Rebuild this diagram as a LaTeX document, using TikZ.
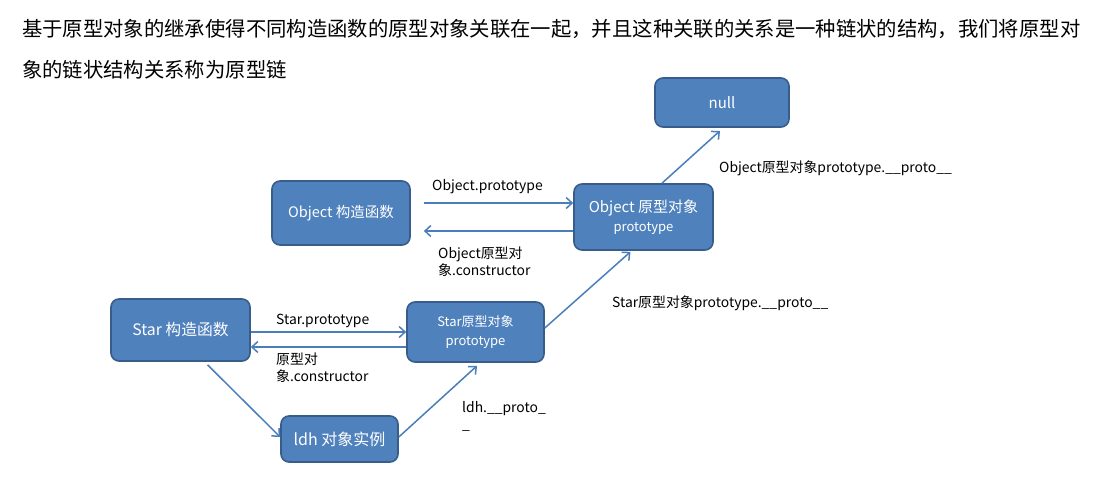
\documentclass[tikz,border=0pt]{standalone}
\usepackage{fontspec}
\setmainfont{Noto Sans CJK SC}
\usetikzlibrary{arrows.meta,calc}
\definecolor{boxfill}{HTML}{4F81BD}
\definecolor{boxline}{HTML}{385D8A}
\definecolor{arrcol}{HTML}{4A7EBB}
\tikzset{
  box/.style={draw=boxline, line width=1.6pt, fill=boxfill, rounded corners=8pt,
    text=white, align=center, inner sep=0pt},
  arr/.style={draw=arrcol, line width=1.5pt, -{Straight Barb[length=6pt,width=11pt,line width=1.5pt]}},
  lbl/.style={anchor=west, inner sep=0pt, font=\fontsize{13.9}{17}\selectfont, align=left, text=black},
}
\begin{document}
\begin{tikzpicture}[x=1pt,y=-1pt]
\useasboundingbox[fill=white] (0,0) rectangle (1096,495);
% title
\node[anchor=west, inner sep=0pt, font=\fontsize{20.35}{24}\selectfont] (t1) at (22,29) {基于原型对象的继承使得不同构造函数的原型对象关联在一起，并且这种关联的关系是一种链状的结构，我们将原型对};
\node[anchor=west, inner sep=0pt, font=\fontsize{20.35}{24}\selectfont] (t2) at (22,70) {象的链状结构关系称为原型链};
% boxes
\node[box, minimum width=134pt, minimum height=49pt, font=\fontsize{15}{18}\selectfont] (nul) at (722,102.5) {null};
\node[box, minimum width=138pt, minimum height=64pt, font=\fontsize{14.5}{17}\selectfont] (oc) at (341,213) {Object 构造函数};
\node[box, minimum width=139pt, minimum height=66pt, font=\fontsize{13}{19}\selectfont] (op) at (643.5,217) {{\fontsize{15}{18}\selectfont Object 原型对象}\\prototype};
\node[box, minimum width=139pt, minimum height=62pt, font=\fontsize{15.8}{19}\selectfont] (sc) at (180.5,330) {Star 构造函数};
\node[box, minimum width=137pt, minimum height=60pt, font=\fontsize{13}{19}\selectfont] (sp) at (475.5,332) {Star原型对象\\prototype};
\node[box, minimum width=117pt, minimum height=46pt, font=\fontsize{16}{19}\selectfont] (ldh) at (339.5,439) {ldh 对象实例};
% arrows
\draw[arr] ($(oc.east|-0,203)+(13,0)$) -- (op.west|-0,203);
\draw[arr] (op.west|-0,231) -- ($(oc.east|-0,231)+(13,0)$);
\draw[arr] (sc.east|-0,332) -- (sp.west|-0,332);
\draw[arr] (sp.west|-0,347) -- (sc.east|-0,347);
\draw[arr] (op.north-|662,0) -- ($(nul.south)+(-2,3)$);
\draw[arr] (sp.east|-0,328) -- ($(op.south)+(-13,1)$);
\draw[arr] ($(sc.south)+(27,3)$) -- (ldh.west|-0,437);
\draw[arr] (ldh.east|-0,437) -- ($(sp.south)+(1.5,3)$);
% labels
\node[lbl] (l1) at (432,187) {Object.prototype};
\node[lbl] (l2) at (438,262) {Object原型对\\象.constructor};
\node[lbl] (l3) at (719,168) {Object原型对象prototype.\_\_proto\_\_};
\node[lbl] (l4) at (276,321) {Star.prototype};
\node[lbl] (l5) at (276,368) {原型对\\象.constructor};
\node[lbl] (l6) at (612,303) {Star原型对象prototype.\_\_proto\_\_};
\node[lbl] (l7) at (462,416) {ldh.\_\_proto\_\\\_};
\end{tikzpicture}
\end{document}
